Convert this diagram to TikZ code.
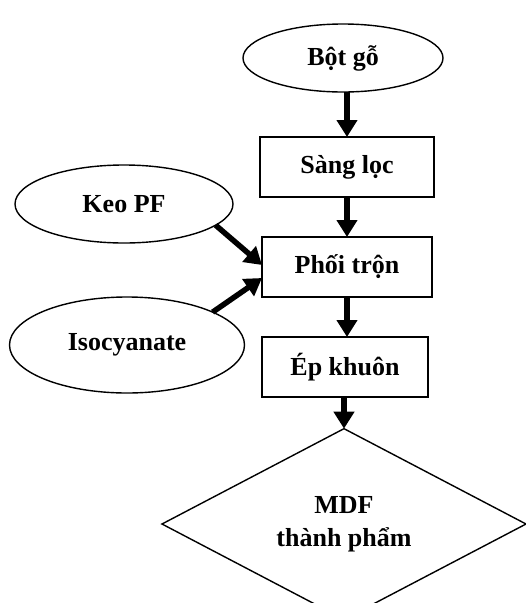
\documentclass[tikz,border=0pt]{standalone}
\usepackage{fontspec}
\setmainfont{Liberation Serif}
\usetikzlibrary{shapes.geometric,arrows.meta}
\begin{document}
\begin{tikzpicture}[x=1pt,y=-1pt,
  every node/.style={font=\fontsize{26}{33}\selectfont\bfseries, inner sep=0pt, outer sep=0pt},
  oval/.style={draw, ellipse, line width=1.4pt},
  stepbox/.style={draw, rectangle, line width=1.4pt, minimum height=60pt},
  endshape/.style={draw, diamond, line width=1.4pt, align=center},
  flow/.style={line width=5.5pt, -{Triangle[width=20pt,length=17pt]}}
]
\useasboundingbox (0,0) rectangle (526,603);
\node[oval, minimum width=200pt, minimum height=68pt] (bot) at (343,58) {\raisebox{5pt}{Bột gỗ}};
\node[stepbox, minimum width=174pt] (sang) at (347,167) {Sàng lọc};
\node[stepbox, minimum width=170pt] (phoi) at (347,267) {Phối trộn};
\node[stepbox, minimum width=166pt] (ep) at (345,367) {Ép khuôn};
\node[oval, minimum width=218pt, minimum height=78pt] (keo) at (124,204) {Keo PF};
\node[oval, minimum width=235pt, minimum height=96pt] (iso) at (127,345) {\raisebox{5pt}{Isocyanate}};
\node[endshape, minimum width=364pt, minimum height=162pt] (mdf) at (344,524) {MDF\\thành phẩm};
\draw[flow] (bot.south -| sang.north) -- (sang.north);
\draw[flow] (sang) -- (phoi);
\draw[flow] (phoi) -- (phoi|-ep.north);
\draw[flow] (ep.south-|mdf.north) -- (mdf.north);
\draw[flow] (keo.-13) -- ([yshift=2pt]phoi.west);
\draw[flow] (iso.21) -- ([yshift=-11pt]phoi.west);
\end{tikzpicture}
\end{document}
